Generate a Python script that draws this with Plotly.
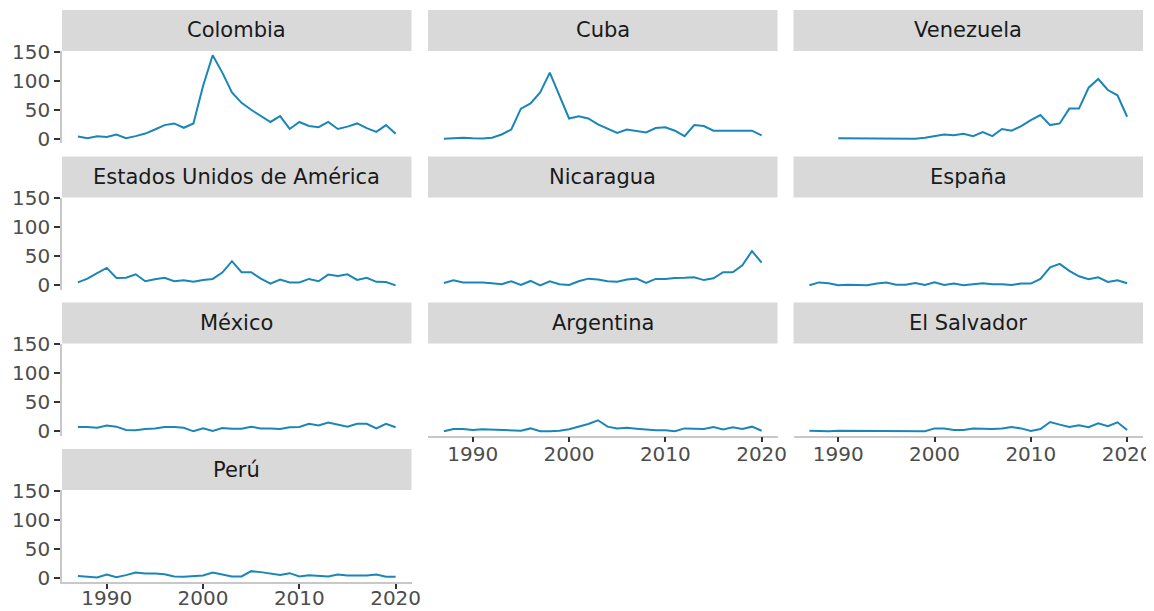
import plotly.graph_objects as go

# Years covered by every panel
years = list(range(1987, 2021))

colombia = [4, 1, 4.6, 3, 7.5, 1, 4.6, 9, 16, 23.6, 26.5, 19, 26.5, 91, 144, 114, 80, 62,
            50, 39, 29, 39, 17, 29, 22, 20, 29, 17, 21, 26.5, 18.5, 12, 23.6, 8.6]
cuba = [0, 1, 2, 1, 0.5, 2, 7.5, 16, 52, 61, 80, 114, 74, 35, 39, 35, 25, 18,
        10, 16, 14, 11, 18.5, 20, 14, 4.6, 23.6, 22, 14, 14, 14, 13, 14, 6]
venezuela = [None, None, None, 1, 1, 1, 0.5, 0, 0, 1, 1, 0, 2, 4.6, 7.5, 6, 8.6, 4.6,
             11.5, 4.6, 17, 14, 22, 32, 41, 23.6, 26.5, 52, 52, 88, 103, 84, 75, 38]
eeuu = [5, 11.5, 21, 30, 12.7, 13, 19, 7, 10.4, 13, 7, 8.6, 6, 9.2, 11, 22, 41.5, 22.5,
        22.5, 11.5, 3, 10, 5, 5, 11, 7, 18.4, 16, 19, 9.2, 13, 6, 5.8, 0]
nicaragua = [4, 8.6, 5, 5, 5, 3.5, 2, 7, 0.5, 7.5, 0, 7, 2, 0.5, 7, 11.5, 10, 7,
             6, 10, 11.5, 4, 11, 11, 12.7, 13, 13.8, 9, 12, 22.5, 22.5, 34.6, 59, 39]
espana = [0, 5, 3.5, 0, 1, 1, 0, 3, 5, 1, 1, 4, 0.5, 5, 0.5, 3, 0, 2,
          3.5, 2, 2, 0.5, 3, 3, 11, 31, 37, 25, 15.5, 10.4, 13.8, 5.8, 8.6, 3.5]
mexico = [7.5, 7.5, 6, 10, 8, 2.3, 1.7, 4, 5, 7.5, 7.5, 6, 0, 5, 0.5, 5.8, 4.6, 4.6,
          8, 5, 5, 4, 7, 7.5, 13, 10, 15, 11, 8, 13, 13, 5, 13, 7]
argentina = [0, 4, 4, 2.3, 3.5, 3, 2.3, 1.7, 1, 5, 0, 0, 1, 3.5, 7.5, 12.7, 19, 8,
             5, 6.3, 4.6, 3, 1.7, 1.7, 0, 5, 4, 4, 7.5, 3, 7, 4, 8, 1]
el_salvador = [1, 0, 0, 1, 1, 1, 0, 0.5, 0.5, 0.5, 0.5, 0.5, 0, 5, 5, 2.3, 2.3, 5,
               4, 4, 5, 7.5, 5, 0.5, 4, 16, 11.5, 7.5, 10.4, 7, 13.8, 9, 15.5, 2.3]
peru = [3, 1.7, 0.5, 5.8, 1, 4.6, 9, 7.5, 7.5, 6, 2.3, 1.7, 3, 4, 9, 5, 2.3, 2.3,
        11.5, 9.8, 8, 5, 8, 2.3, 4.6, 3.5, 2.3, 5.8, 4, 4, 4, 5.8, 1.7, 1.7]

countries = ["Colombia", "Cuba", "Venezuela", "Estados Unidos de América", "Nicaragua",
             "España", "México", "Argentina", "El Salvador", "Perú"]
series = [colombia, cuba, venezuela, eeuu, nicaragua, espana, mexico, argentina,
          el_salvador, peru]

y_ticks = [0, 50, 100, 150]
x_ticks = [1990, 2000, 2010, 2020]

LINE = "#1a86b8"
STRIP = "#d9d9d9"
FONT = "DejaVu Sans, Arial, sans-serif"

# page body adds an 8px margin, so the figure is laid out 8px smaller
OFF = 8
W, H = 1154 - OFF, 611 - OFF
col_left = [62 - OFF, 428 - OFF, 793.5 - OFF]
panel_w = 349.5
row_top = [10 - OFF, 156.5 - OFF, 302.5 - OFF, 449 - OFF]
strip_h = 41
panel_h = 92
ncol = 3

# ggplot-like 5% expansion
vals = [v for s in series for v in s if v is not None]
ymin, ymax = min(vals), max(vals)
ypad = 0.05 * (ymax - ymin)
xpad = 0.05 * (years[-1] - years[0])

# panels that carry the x axis (last in their column)
bottom_panels = {7, 8, 9}

fig = go.Figure()
shapes, annotations = [], []
for i, (name, vals_i) in enumerate(zip(countries, series)):
    r, c = divmod(i, ncol)
    k = "" if i == 0 else str(i + 1)
    x0, x1 = col_left[c], col_left[c] + panel_w
    st = row_top[r]
    ptop, pbot = st + strip_h, st + strip_h + panel_h

    fig.add_trace(go.Scatter(
        x=years, y=vals_i, mode="lines", line=dict(color=LINE, width=2),
        xaxis="x" + k, yaxis="y" + k, showlegend=False, connectgaps=False,
    ))

    show_x = i in bottom_panels
    show_y = c == 0
    fig.layout["xaxis" + k] = dict(
        domain=[x0 / W, x1 / W], anchor="y" + k,
        range=[years[0] - xpad, years[-1] + xpad],
        tickvals=x_ticks, showticklabels=show_x, showgrid=False, zeroline=False,
        showline=show_x, linecolor="#c8c8c8", linewidth=1.5,
        ticks="outside" if show_x else "", ticklen=5, tickwidth=1.5,
        tickcolor="#333333", automargin=False,
        ticklabelstandoff=-8 if r == 3 else -5,
        ticklabeloverflow="allow",
        tickfont=dict(size=20, color="#4d4d4d", family=FONT),
    )
    fig.layout["yaxis" + k] = dict(
        domain=[1 - pbot / H, 1 - ptop / H], anchor="x" + k,
        range=[ymin - ypad, ymax + ypad],
        tickvals=y_ticks, showticklabels=show_y, showgrid=False, zeroline=False,
        showline=show_y, linecolor="#c8c8c8", linewidth=1.5,
        ticks="outside" if show_y else "", ticklen=6, tickwidth=1.5,
        tickcolor="#333333", automargin=False,
        tickfont=dict(size=20, color="#4d4d4d", family=FONT),
    )

    shapes.append(dict(
        type="rect", xref="paper", yref="paper",
        x0=x0 / W, x1=x1 / W, y0=1 - (st + strip_h) / H, y1=1 - st / H,
        fillcolor=STRIP, line=dict(width=0), layer="below",
    ))
    annotations.append(dict(
        text=name, xref="paper", yref="paper",
        x=(x0 + x1) / 2 / W, y=1 - (st + strip_h / 2) / H,
        xanchor="center", yanchor="middle", showarrow=False,
        font=dict(size=21, color="#1a1a1a", family=FONT),
    ))

fig.update_layout(
    width=W, height=H,
    margin=dict(l=0, r=0, t=0, b=0),
    paper_bgcolor="white", plot_bgcolor="white",
    shapes=shapes, annotations=annotations,
    font=dict(family=FONT),
)

fig.write_html("out.html")
